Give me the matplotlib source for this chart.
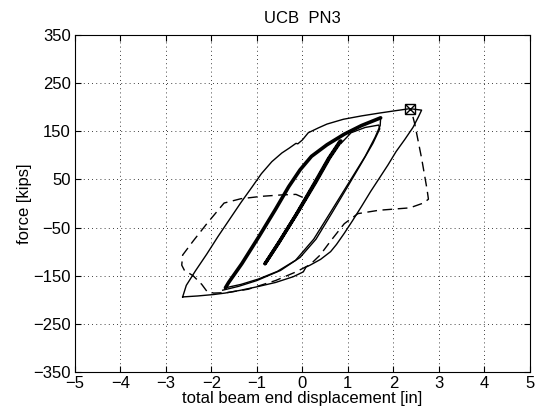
import matplotlib
matplotlib.use("Agg")
import matplotlib.pyplot as plt

plt.rcParams['font.family'] = ['Liberation Sans', 'DejaVu Sans']

# Outer (largest) solid cycle
outer_x = [-2.63, -2.55, -2.35, -2.10, -1.85, -1.60, -1.35, -1.10, -0.90, -0.67, -0.45,
           -0.29, -0.14, -0.10, 0.0, 0.13, 0.35, 0.54, 0.90, 1.30, 1.70, 2.06, 2.36, 2.62,
           2.55, 2.43, 2.25, 2.06, 1.88, 1.68, 1.50, 1.30, 1.10, 0.92, 0.75, 0.62, 0.40,
           0.17, 0.08, 0.02, -0.20, -0.59, -1.00, -1.35, -1.70, -1.95, -2.30, -2.63]
outer_y = [-194, -170, -140, -105, -68, -33, 2, 35, 62, 87, 105,
           115, 125, 124, 132, 147, 157, 165, 175, 182, 188, 193, 197, 194,
           180, 158, 133, 108, 80, 51, 25, -6, -36, -62, -85, -100, -116,
           -128, -132, -142, -152, -164, -173, -180, -186, -189, -192, -194]

# Medium cycle, loading branch (thick)
mid_up_x = [-1.69, -1.62, -1.33, -0.95, -0.59, -0.30, -0.05, 0.20, 0.54, 0.92, 1.30, 1.72]
mid_up_y = [-175, -164, -125, -68, -12, 35, 70, 98, 122, 144, 162, 178]

# Medium cycle, unloading branch (thin)
mid_dn_x = [1.72, 1.71, 1.60, 1.38, 1.00, 0.62, 0.25, -0.15, -0.55, -0.97, -1.35, -1.69]
mid_dn_y = [178, 162, 138, 98, 40, -18, -74, -118, -141, -157, -168, -175]

# Second medium cycle (thin)
mid2_x = [0.85, 1.07, 1.38, 1.68, 1.70, 1.55, 1.30, 1.00, 0.66, 0.30, -0.05, -0.48, -1.00, -1.40, -1.75]
mid2_y = [125, 147, 158, 163, 155, 125, 84, 36, -18, -74, -112, -139, -160, -172, -180]

# Small elastic cycle (thick)
small_x = [-0.82, -0.50, -0.10, 0.30, 0.60, 0.85, 0.83, 0.57, 0.25, -0.15, -0.52, -0.82]
small_y = [-125, -78, -18, 45, 95, 130, 130, 93, 40, -25, -82, -125]

# Final (dashed) cycle
dash_x = [2.43, 2.47, 2.62, 2.74, 2.77, 2.66, 2.36, 1.68, 1.22, 0.92, 0.62, 0.39, 0.17,
          -0.14, -0.59, -1.19, -1.65, -1.95, -2.10, -2.21, -2.40, -2.59, -2.65, -2.63,
          -2.40, -2.10, -1.72, -1.35, -0.89, -0.44, -0.14, 0.05]
dash_y = [180, 165, 94, 29, 9, 1, -9, -14, -21, -42, -78, -107, -127,
          -142, -160, -178, -185, -186, -182, -168, -150, -139, -128, -107,
          -78, -42, 1, 10, 15, 18, 19, 11]

marker_x = [2.37]
marker_y = [197]

xticks = [-5, -4, -3, -2, -1, 0, 1, 2, 3, 4, 5]
yticks = [-350, -250, -150, -50, 50, 150, 250, 350]

FS = 12

fig = plt.figure(figsize=(5.38, 4.12), dpi=100)
ax = fig.add_axes([0.139, 0.097, 0.846, 0.818])

ax.plot(outer_x, outer_y, color='black', lw=1.0)
ax.plot(mid_up_x, mid_up_y, color='black', lw=2.6, solid_capstyle='round')
ax.plot(mid_dn_x, mid_dn_y, color='black', lw=1.0)
ax.plot(mid2_x, mid2_y, color='black', lw=1.0)
ax.plot(small_x, small_y, color='black', lw=2.4, solid_capstyle='round')
ax.plot(dash_x, dash_y, color='black', lw=1.0, dashes=(7, 4))
ax.plot(marker_x, marker_y, marker='s', ms=7, mfc='none', mec='black', mew=1.0, ls='none')
ax.plot(marker_x, marker_y, marker='x', ms=7, color='black', mew=1.0, ls='none')

ax.set_xlim(-5, 5)
ax.set_ylim(-350, 350)
ax.set_xticks(xticks)
ax.set_yticks(yticks)
ax.set_xticklabels([str(t).replace('-', '\u2212') for t in xticks])
ax.set_yticklabels([str(t).replace('-', '\u2212') for t in yticks])
ax.tick_params(direction='in', top=True, right=True, length=4, width=0.8,
               labelsize=FS, pad=3)
ax.grid(True, color='black', linestyle=(0, (1, 4)), linewidth=0.6)
for s in ax.spines.values():
    s.set_linewidth(0.8)

ax.set_xlabel('total beam end displacement [in]', fontsize=FS, labelpad=0)
ax.set_ylabel('force [kips]', fontsize=FS, labelpad=1)
ax.set_title('UCB  PN3', fontsize=FS, pad=9)

fig.savefig('out.png', dpi=100)
